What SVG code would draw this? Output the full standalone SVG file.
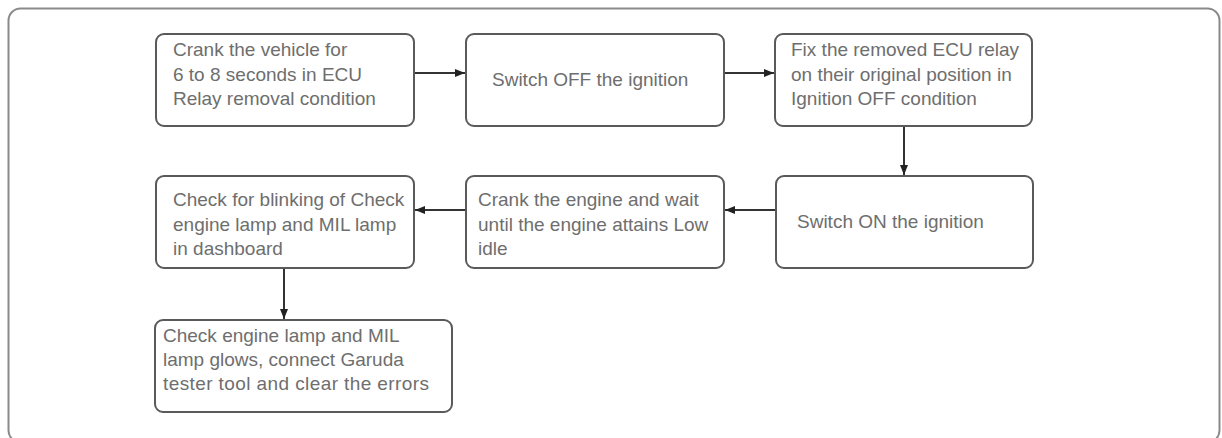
<svg xmlns="http://www.w3.org/2000/svg" width="1222" height="438" viewBox="0 0 1222 438">
<defs>
<style>
.frame{fill:#fff;stroke:#8a8a8a;stroke-width:2}
.box{fill:#fff;stroke:#5a5a5a;stroke-width:2}
.t{font-family:"Liberation Sans",Arial,sans-serif;font-size:19px;fill:#6e6e6e}
.c{stroke:#333;stroke-width:2;fill:none;marker-end:url(#ah)}
</style>
<marker id="ah" viewBox="0 0 10 10" refX="10" refY="5" markerWidth="10" markerHeight="10" markerUnits="userSpaceOnUse" orient="auto">
<path d="M0,1 L10,5 L0,9 Z" fill="#222"/>
</marker>
</defs>
<rect x="0" y="0" width="1222" height="438" fill="#fff"/>
<rect class="frame" x="8.5" y="8.5" width="1211" height="434" rx="12"/>
<g id="connectors">
<line class="c" x1="414" y1="73" x2="465" y2="73"/>
<line class="c" x1="724" y1="73" x2="774" y2="73"/>
<line class="c" x1="904" y1="126" x2="904" y2="175"/>
<line class="c" x1="776" y1="210" x2="725" y2="210"/>
<line class="c" x1="466" y1="210" x2="415" y2="210"/>
<line class="c" x1="284" y1="268" x2="284" y2="319"/>
</g>
<g id="n1">
<rect class="box" x="156" y="34" width="258" height="92" rx="8"/>
<text class="t" x="173" y="56">Crank the vehicle for</text>
<text class="t" x="173" y="81">6 to 8 seconds in ECU</text>
<text class="t" x="173" y="105">Relay removal condition</text>
</g>
<g id="n2">
<rect class="box" x="466" y="34" width="258" height="92" rx="8"/>
<text class="t" x="492" y="86">Switch OFF the ignition</text>
</g>
<g id="n3">
<rect class="box" x="775" y="34" width="257" height="92" rx="8"/>
<text class="t" x="791" y="56">Fix the removed ECU relay</text>
<text class="t" x="791" y="81">on their original position in</text>
<text class="t" x="791" y="105">Ignition OFF condition</text>
</g>
<g id="n4">
<rect class="box" x="156" y="176" width="258" height="92" rx="8"/>
<text class="t" x="173" y="206">Check for blinking of Check</text>
<text class="t" x="173" y="231">engine lamp and MIL lamp</text>
<text class="t" x="173" y="255">in dashboard</text>
</g>
<g id="n5">
<rect class="box" x="466" y="176" width="258" height="92" rx="8"/>
<text class="t" x="478" y="206">Crank the engine and wait</text>
<text class="t" x="478" y="231">until the engine attains Low</text>
<text class="t" x="478" y="255">idle</text>
</g>
<g id="n6">
<rect class="box" x="776" y="176" width="257" height="92" rx="8"/>
<text class="t" x="797" y="228">Switch ON the ignition</text>
</g>
<g id="n7">
<rect class="box" x="155" y="320" width="297" height="92" rx="8"/>
<text class="t" x="163" y="342">Check engine lamp and MIL</text>
<text class="t" x="163" y="366">lamp glows, connect Garuda</text>
<text class="t" x="163" y="390" textLength="266" lengthAdjust="spacing">tester tool and clear the errors</text>
</g>
</svg>
